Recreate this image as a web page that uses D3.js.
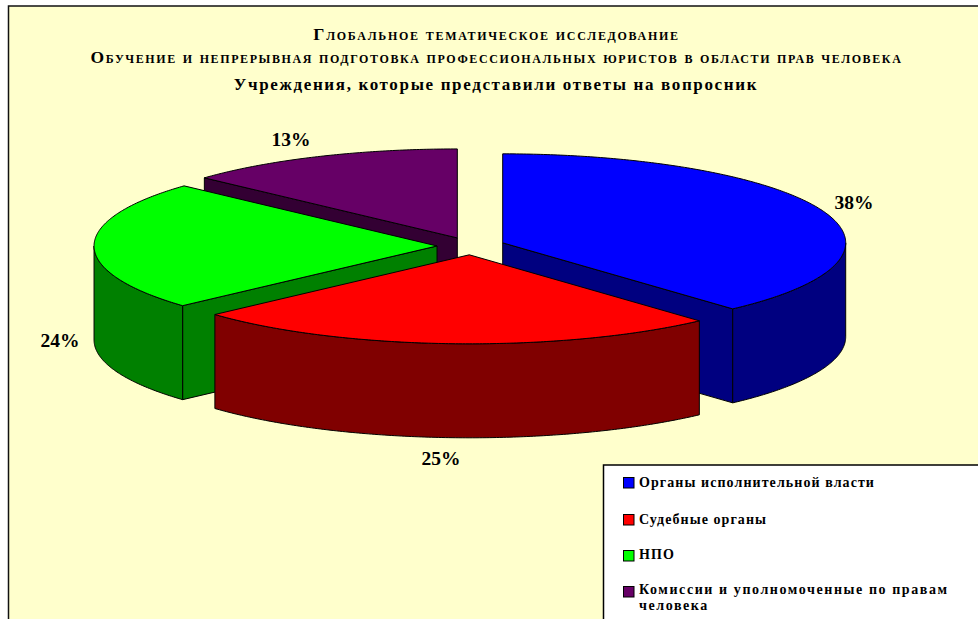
<!DOCTYPE html>
<html><head><meta charset="utf-8">
<script src="https://cdn.jsdelivr.net/npm/d3@7/dist/d3.min.js"></script>
<style>html,body{margin:0;padding:0;background:#fff}svg{display:block}text{font-family:"Liberation Serif",serif;font-weight:bold;fill:#000}</style>
</head><body><script>
const categories = ["Органы исполнительной власти","Судебные органы","НПО","Комиссии и уполномоченные по правам человека"];
const values = [38.3, 25, 23.5, 13.2];
const topColors = ["#0000ff","#ff0000","#00ff00","#660066"];
const sideColors = ["#000080","#800000","#008000","#330033"];
const titleLines = ["Глобальное тематическое исследование","Обучение и непрерывная подготовка профессиональных юристов в области прав человека","Учреждения, которые представили ответы на вопросник"];

const W=978,H=619;
const svg=d3.select("body").append("svg").attr("width",W).attr("height",H);
svg.append("rect").attr("x",8.5).attr("y",6).attr("width",W).attr("height",H).attr("fill","#ffffcc").attr("stroke","#111").attr("stroke-width",1.5);

// titles
[[40,17.5,1.7,"small-caps",496.5],[63,17.5,1.6,"small-caps",496.5],[90,17,1.65,"normal",496]].forEach((t,i)=>{
  svg.append("text").attr("x",t[4]).attr("y",t[0]).attr("text-anchor","middle")
   .style("font-size",t[1]+"px").style("letter-spacing",t[2]+"px").style("font-variant",t[3]).text(titleLines[i]);
});

// unit-circle → screen projection
const x=d3.scaleLinear().domain([-1,1]).range([471-343,471+343]);
const y=d3.scaleLinear().domain([-1,1]).range([246-89,246+89]);
const depth=94, explode=0.099;
const arcs=d3.pie().sort(null).value(d=>d)(values);
const line=d3.line();
function pt(a,ox,oy,r=1,dz=0){return [x(ox+r*Math.sin(a)),y(oy-r*Math.cos(a))+dz];}
function arcPts(a0,a1,ox,oy,dz=0){const n=Math.max(2,Math.ceil((a1-a0)/0.01));
  return d3.range(n+1).map(i=>pt(a0+(a1-a0)*i/n,ox,oy,1,dz));}
const order=[3,2,0,1];
const g=svg.append("g").attr("stroke","#000").attr("stroke-width",1).attr("stroke-linejoin","round");
order.forEach(i=>{
  const d=arcs[i], m=(d.startAngle+d.endAngle)/2;
  const ox=explode*Math.sin(m), oy=-explode*Math.cos(m);
  const apex=pt(0,ox,oy,0);
  const apexB=pt(0,ox,oy,0,depth);
  const A=Math.PI, a0=d.startAngle, a1=d.endAngle;
  // cut faces turned towards the viewer
  if(a1<A) g.append("path").attr("d",line([apex,pt(a1,ox,oy),pt(a1,ox,oy,1,depth),apexB])+"Z").attr("fill",sideColors[i]);
  if(a0>A) g.append("path").attr("d",line([apex,pt(a0,ox,oy),pt(a0,ox,oy,1,depth),apexB])+"Z").attr("fill",sideColors[i]);
  // outer wall, front half only
  const w0=Math.max(a0,Math.PI/2), w1=Math.min(a1,Math.PI*1.5);
  if(w1>w0){
    g.append("path").attr("d",line([...arcPts(w0,w1,ox,oy),...arcPts(w0,w1,ox,oy,depth).reverse()])+"Z").attr("fill",sideColors[i]);
  }
  // top
  g.append("path").attr("d",line([apex,...arcPts(a0,a1,ox,oy)])+"Z").attr("fill",topColors[i]);
});

// data labels
const labelPos=[[854,209],[441,465],[60,347],[291,146]];
values.forEach((v,i)=>{
  svg.append("text").attr("x",labelPos[i][0]).attr("y",labelPos[i][1]).attr("text-anchor","middle")
    .style("font-size","19.5px").text(d3.format(".0f")(v)+"%");
});

// legend
svg.append("rect").attr("x",603.5).attr("y",465).attr("width",W).attr("height",H).attr("fill","#fff").attr("stroke","#000").attr("stroke-width",1.5);
const rows=[[477,[487]],[514,[524]],[550,[559]],[586,[594,610]]];
const legendLines=[[categories[0]],[categories[1]],[categories[2]],["Комиссии и уполномоченные по правам","человека"]];
rows.forEach((r,i)=>{
  svg.append("rect").attr("x",623.5).attr("y",r[0]+.5).attr("width",10.5).attr("height",10.5).attr("fill",topColors[i]).attr("stroke","#000").attr("stroke-width",1);
  legendLines[i].forEach((s,j)=>{
    svg.append("text").attr("x",639).attr("y",r[1][j]).style("font-size","14px")
      .style("letter-spacing",i==3?"1.58px":"1.07px").text(s);
  });
});
</script></body></html>
